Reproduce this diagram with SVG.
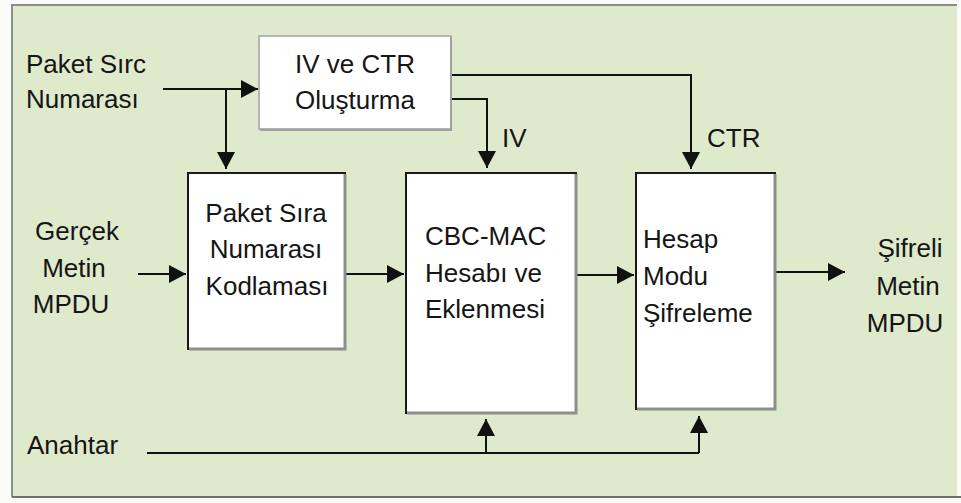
<svg xmlns="http://www.w3.org/2000/svg" width="961" height="503" viewBox="0 0 961 503">
  <style>
    text { font-family: "Liberation Sans", Arial, sans-serif; font-size: 26px; fill: #151515; }
    .mid { text-anchor: middle; }
    .box { fill: #ffffff; stroke: #1a1a1a; stroke-width: 2; }
    .shade { fill: none; stroke: #8e8e8e; stroke-width: 3; }
    .wire { fill: none; stroke: #111111; stroke-width: 2; }
    .arrow { fill: none; stroke: #111111; stroke-width: 2; marker-end: url(#head); }
  </style>
  <defs>
    <marker id="head" viewBox="0 0 17 18" refX="17" refY="9" markerWidth="17" markerHeight="18" markerUnits="userSpaceOnUse" orient="auto">
      <path d="M0,0 L17,9 L0,18 z" fill="#111111"/>
    </marker>
  </defs>

  <!-- background panel -->
  <rect x="0" y="0" width="961" height="503" fill="#fbfcf8"/>
  <rect x="12" y="5" width="945" height="492" fill="#dfe9cb"/>
  <path d="M12,497 L12,5 L957,5" fill="none" stroke="#8c8c8c" stroke-width="2"/>
  <path d="M12,497 L961,497" fill="none" stroke="#6f6f6f" stroke-width="2"/>

  <!-- connectors -->
  <g id="connectors">
    <path class="arrow" d="M163,89 L258,89"/>
    <path class="arrow" d="M226,89 L226,169"/>
    <path class="arrow" d="M451,99 L487,99 L487,168"/>
    <path class="arrow" d="M451,75 L691,75 L691,169"/>
    <path class="arrow" d="M138,274 L186,274"/>
    <path class="arrow" d="M345,274 L404,274"/>
    <path class="arrow" d="M576,275 L634,275"/>
    <path class="arrow" d="M775,272 L845,272"/>
    <path class="wire" d="M147,453 L699,453"/>
    <path class="arrow" d="M486,453 L486,419"/>
    <path class="arrow" d="M699,453 L699,416"/>
    <text x="502" y="147">IV</text>
    <text x="707" y="147">CTR</text>
  </g>

  <!-- inputs -->
  <g id="in-seq">
    <text x="26" y="73">Paket Sırc</text>
    <text x="26" y="108">Numarası</text>
  </g>
  <g id="in-plain">
    <text class="mid" x="77" y="240">Gerçek</text>
    <text class="mid" x="74" y="277">Metin</text>
    <text class="mid" x="71" y="313">MPDU</text>
  </g>
  <g id="in-key">
    <text x="27" y="454">Anahtar</text>
  </g>

  <!-- processing blocks -->
  <g id="iv-ctr">
    <rect x="259" y="36" width="192" height="93" fill="#ffffff" stroke="#b4b4b4" stroke-width="2"/>
    <path d="M451,37 L451,130 L260,130" fill="none" stroke="#a0a0a0" stroke-width="2"/>
    <text class="mid" x="355" y="73">IV ve CTR</text>
    <text class="mid" x="355" y="109">Oluşturma</text>
  </g>
  <g id="seq-encode">
    <rect class="box" x="188" y="173" width="157" height="176"/>
    <path class="shade" d="M345,174 L345,349 L189,349"/>
    <text class="mid" x="266" y="222">Paket Sıra</text>
    <text class="mid" x="266" y="258">Numarası</text>
    <text class="mid" x="267" y="295">Kodlaması</text>
  </g>
  <g id="cbc-mac">
    <rect class="box" x="406" y="173" width="170" height="240"/>
    <path class="shade" d="M576,174 L576,413 L407,413"/>
    <text x="425" y="245">CBC-MAC</text>
    <text x="425" y="282">Hesabı ve</text>
    <text x="425" y="318">Eklenmesi</text>
  </g>
  <g id="ctr-mode">
    <rect class="box" x="636" y="173" width="139" height="236"/>
    <path class="shade" d="M775,174 L775,409 L637,409"/>
    <text x="643" y="248">Hesap</text>
    <text x="643" y="285">Modu</text>
    <text x="643" y="322">Şifreleme</text>
  </g>

  <!-- output -->
  <g id="out-cipher">
    <text class="mid" x="910" y="257">Şifreli</text>
    <text class="mid" x="908" y="295">Metin</text>
    <text class="mid" x="905" y="332">MPDU</text>
  </g>
</svg>
